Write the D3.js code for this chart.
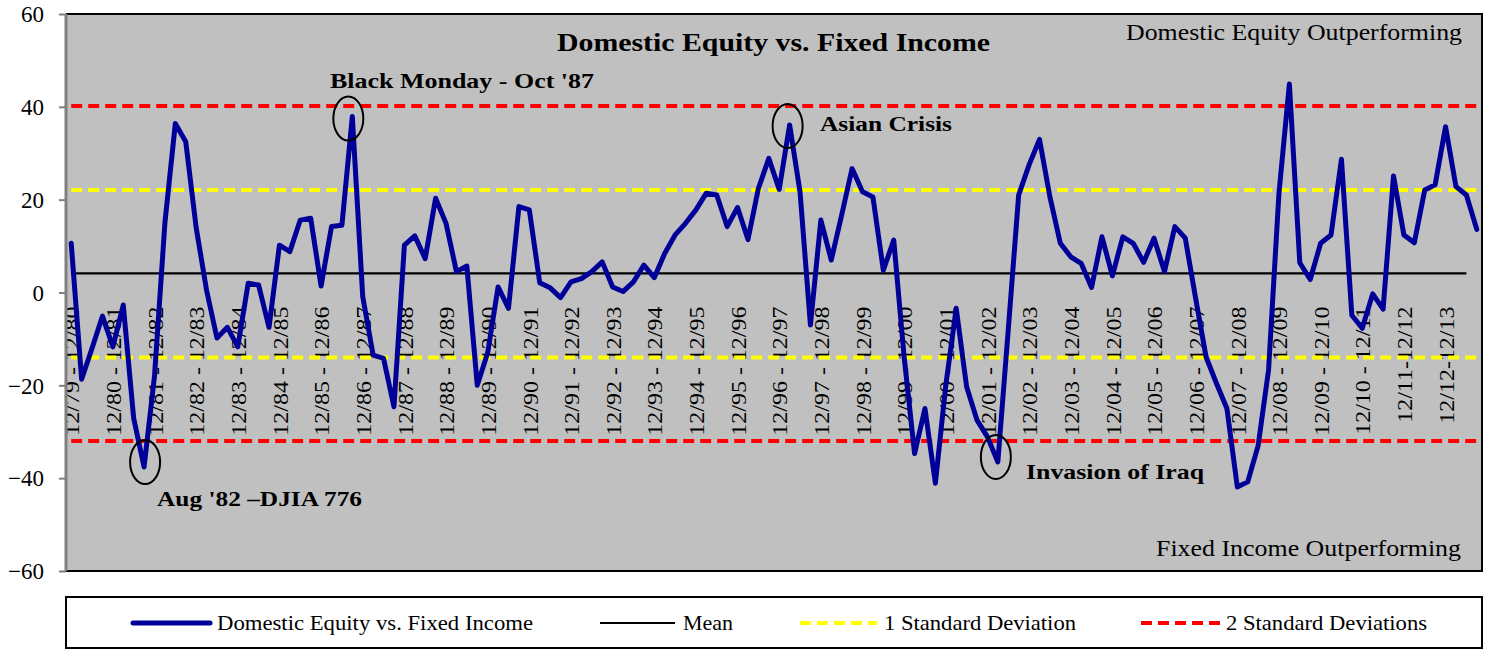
<!DOCTYPE html>
<html>
<head>
<meta charset="utf-8">
<script src="https://cdn.jsdelivr.net/npm/d3@7"></script>
<style>
  html, body { margin: 0; padding: 0; background: #ffffff; }
  svg { display: block; font-family: "Liberation Serif", "Times New Roman", serif; }
</style>
</head>
<body>
<svg id="chart" width="1486" height="650"></svg>
<script>
// ---------------- DATA ----------------
const tickLabels = [
  "12/79 - 12/80","12/80 - 12/81","12/81 - 12/82","12/82 - 12/83","12/83 - 12/84",
  "12/84 - 12/85","12/85 - 12/86","12/86 - 12/87","12/87 - 12/88","12/88 - 12/89",
  "12/89 - 12/90","12/90 - 12/91","12/91 - 12/92","12/92 - 12/93","12/93 - 12/94",
  "12/94 - 12/95","12/95 - 12/96","12/96 - 12/97","12/97 - 12/98","12/98 - 12/99",
  "12/99 - 12/00","12/00 - 12/01","12/01 - 12/02","12/02 - 12/03","12/03 - 12/04",
  "12/04 - 12/05","12/05 - 12/06","12/06 - 12/07","12/07 - 12/08","12/08 - 12/09",
  "12/09 - 12/10","12/10 - 12/11","12/11-12/12","12/12-12/13"
];
const periodsPerLabel = 4;   // quarterly observations, one label per year

const equityVsFixed = [
  10.6,-18.7,-12.0,-5.1,-11.7,-2.7,-27.1,-37.6,-18.0,15.0,
  36.4,32.5,14.0,0.5,-9.8,-7.5,-11.7,2.0,1.6,-7.5,
  10.2,8.8,15.6,16.0,1.4,14.2,14.5,37.9,-0.9,-13.5,
  -14.2,-24.6,10.2,12.2,7.3,20.3,14.9,4.5,5.7,-20.0,
  -13.0,1.2,-3.4,18.5,17.8,2.1,1.0,-1.1,2.3,3.0,
  4.5,6.6,1.2,0.2,2.3,5.9,3.2,8.4,12.4,14.9,
  17.8,21.4,21.0,14.2,18.3,11.4,22.4,28.9,22.2,36.1,
  21.7,-7.0,15.6,7.0,16.7,26.7,21.7,20.6,4.8,11.3,
  -13.9,-34.7,-25.0,-41.1,-20.0,-3.4,-20.3,-27.5,-31.1,-36.5,
  -8.0,21.0,27.5,33.0,20.6,10.6,7.7,6.3,1.1,12.0,
  3.6,12.0,10.6,6.5,11.7,4.5,14.2,11.7,-1.3,-13.9,
  -19.6,-25.0,-41.9,-40.8,-33.0,-16.7,21.4,44.9,6.4,2.8,
  10.6,12.4,28.7,-4.9,-7.7,-0.3,-3.6,25.1,12.4,10.7,
  22.1,23.2,35.7,22.8,21.0,13.6
];
const meanValue = 4.1;
const oneStdDev = [22.1, -14.0];
const twoStdDev = [40.2, -32.0];
const yTicks = [-60, -40, -20, 0, 20, 40, 60];

const seriesNames = ["Domestic Equity vs. Fixed Income","Mean","1 Standard Deviation","2 Standard Deviations"];
const annotations = [
  {text: "Black Monday - Oct '87", index: 27},
  {text: "Asian Crisis", index: 69},
  {text: "Aug '82 \u2013DJIA 776", index: 7},
  {text: "Invasion of Iraq", index: 89}
];

// ---------------- LAYOUT / STYLE ----------------
const plot = {left: 66, top: 14, right: 1482, bottom: 571};
const BLUE = "#000099", GRAY_BG = "#C0C0C0";

const svg = d3.select("#chart");

const idx = d3.range(equityVsFixed.length);
const x = d3.scalePoint().domain(idx).range([plot.left, plot.right]).padding(0.5);
const y = d3.scaleLinear().domain([-60, 60]).range([plot.bottom, plot.top]);

// plot background
svg.append("rect")
  .attr("x", plot.left).attr("y", plot.top)
  .attr("width", plot.right - plot.left).attr("height", plot.bottom - plot.top)
  .attr("fill", GRAY_BG);

function fitText(sel, len) {
  sel.attr("textLength", len).attr("lengthAdjust", "spacingAndGlyphs");
}

// Y axis
const yAxis = d3.axisLeft(y).tickValues(yTicks).tickSize(7).tickPadding(15).tickFormat(d3.format("d"));
const gy = svg.append("g").attr("transform", `translate(${plot.left},0)`).call(yAxis);
gy.select(".domain").remove();
gy.selectAll(".tick line").attr("stroke", "#808080").attr("stroke-width", 2);
gy.selectAll(".tick text")
  .attr("font-family", "Liberation Serif")
  .attr("font-size", 23).attr("fill", "#000")
  .attr("dy", "0.34em");

// X axis labels (category axis crossing at 0)
const labelIdx = tickLabels.map((_, i) => i * periodsPerLabel);
const xAxis = d3.axisBottom(x).tickValues(labelIdx).tickSize(0)
  .tickFormat(d => tickLabels[d / periodsPerLabel]);
const gx = svg.append("g").attr("transform", `translate(0,${y(0)})`).call(xAxis);
gx.select(".domain").remove();
gx.selectAll(".tick text")
  .attr("font-family", "Liberation Serif")
  .attr("font-size", 22).attr("fill", "#000")
  .attr("text-anchor", "end")
  .attr("transform", "rotate(-90)")
  .attr("x", -14).attr("y", 0).attr("dy", "0.35em")
  .each(function() {
    const l = this.getComputedTextLength();
    d3.select(this).attr("textLength", l * 1.09).attr("lengthAdjust", "spacingAndGlyphs");
  });

// reference lines
const first = x(0), last = x(idx[idx.length - 1]);
function hline(v, color, width, dash, x2) {
  const l = svg.append("line")
    .attr("x1", first).attr("x2", x2)
    .attr("y1", y(v)).attr("y2", y(v))
    .attr("stroke", color).attr("stroke-width", width);
  if (dash) l.attr("stroke-dasharray", dash);
  return l;
}
hline(meanValue, "#000000", 2.2, null, x(idx.length - 2));
oneStdDev.forEach(v => hline(v, "#FFFF00", 4, "11,6", last));
twoStdDev.forEach(v => hline(v, "#FF0000", 4, "11,6", last));

// data line
const line = d3.line().x((d, i) => x(i)).y(d => y(d));
svg.append("path")
  .datum(equityVsFixed)
  .attr("d", line)
  .attr("fill", "none")
  .attr("stroke", BLUE)
  .attr("stroke-width", 5)
  .attr("stroke-linejoin", "round")
  .attr("stroke-linecap", "round");

// plot border (top/right/bottom black, left gray axis line)
svg.append("path")
  .attr("d", `M${plot.left},${plot.top}H${plot.right}V${plot.bottom}H${plot.left}`)
  .attr("fill", "none").attr("stroke", "#000").attr("stroke-width", 2);
svg.append("line")
  .attr("x1", plot.left).attr("x2", plot.left)
  .attr("y1", plot.top).attr("y2", plot.bottom)
  .attr("stroke", "#808080").attr("stroke-width", 3);

// title and region labels
svg.append("text").attr("x", 557).attr("y", 51)
  .attr("font-size", 26).attr("font-weight", "bold")
  .text("Domestic Equity vs. Fixed Income").call(fitText, 433);
svg.append("text").attr("x", 1126).attr("y", 40)
  .attr("font-size", 23)
  .text("Domestic Equity Outperforming").call(fitText, 336);
svg.append("text").attr("x", 1156).attr("y", 556)
  .attr("font-size", 23)
  .text("Fixed Income Outperforming").call(fitText, 305);

// annotations: ellipses around the event point + bold label
const annStyle = [
  {dx: -4, dy: 2, tx: 330, ty: 88, len: 264},
  {dx: -2, dy: 1, tx: 820, ty: 131, len: 132},
  {dx: 1, dy: -5, tx: 157, ty: 506, len: 205},
  {dx: -2, dy: -5, tx: 1026, ty: 479, len: 178}
];
annotations.forEach((a, k) => {
  const s = annStyle[k];
  svg.append("ellipse")
    .attr("cx", x(a.index) + s.dx)
    .attr("cy", y(equityVsFixed[a.index]) + s.dy)
    .attr("rx", 15).attr("ry", 22)
    .attr("fill", "none").attr("stroke", "#000").attr("stroke-width", 2);
  svg.append("text").attr("x", s.tx).attr("y", s.ty)
    .attr("font-size", 22).attr("font-weight", "bold")
    .text(a.text).call(fitText, s.len);
});

// legend
const leg = {x: 66, y: 597, w: 1416, h: 51};
svg.append("rect").attr("x", leg.x).attr("y", leg.y).attr("width", leg.w).attr("height", leg.h)
  .attr("fill", "#fff").attr("stroke", "#000").attr("stroke-width", 2);
const legItems = [
  {x1: 133, x2: 210, tx: 217, len: 316, color: BLUE, w: 5, dash: null},
  {x1: 600, x2: 675, tx: 683, len: 50, color: "#000", w: 2.2, dash: null},
  {x1: 800, x2: 877, tx: 884, len: 192, color: "#FFFF00", w: 4, dash: "11,6"},
  {x1: 1141, x2: 1220, tx: 1226, len: 201, color: "#FF0000", w: 4, dash: "11,6"}
];
const ly = 623;
legItems.forEach((it, i) => {
  const l = svg.append("line").attr("x1", it.x1).attr("x2", it.x2).attr("y1", ly).attr("y2", ly)
    .attr("stroke", it.color).attr("stroke-width", it.w)
    .attr("stroke-linecap", i === 0 ? "round" : "butt");
  if (it.dash) l.attr("stroke-dasharray", it.dash);
  svg.append("text").attr("x", it.tx).attr("y", ly + 7)
    .attr("font-size", 22)
    .text(seriesNames[i]).call(fitText, it.len);
});
</script>
</body>
</html>
